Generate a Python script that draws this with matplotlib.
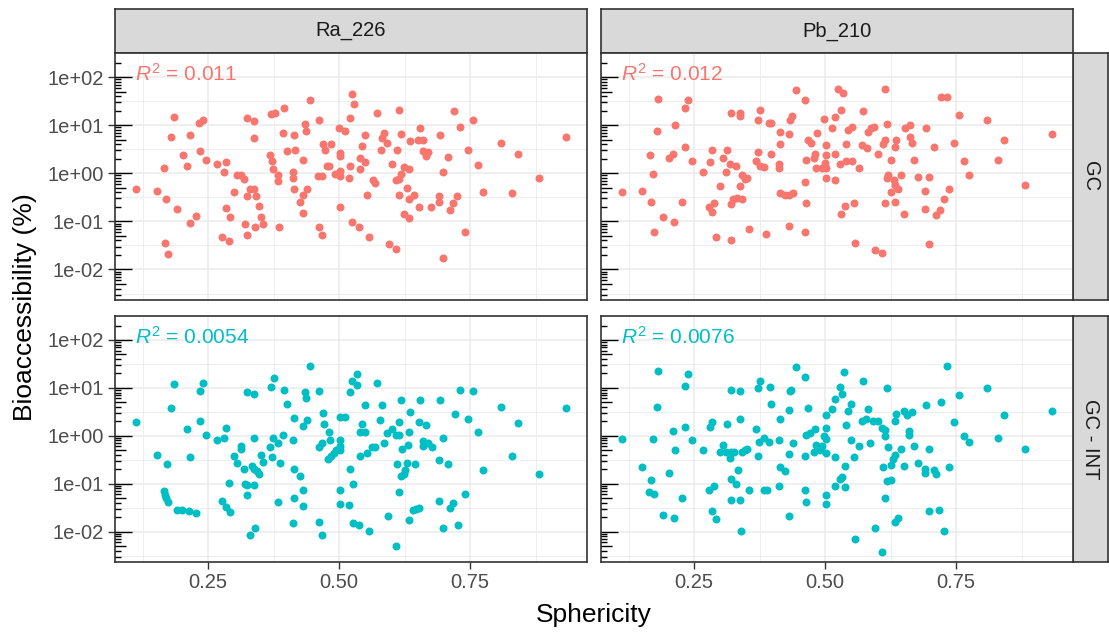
import numpy as np
import matplotlib
matplotlib.use("Agg")
import matplotlib.pyplot as plt

plt.rcParams["font.family"] = ["Liberation Sans", "DejaVu Sans"]
plt.rcParams["mathtext.fontset"] = "custom"
plt.rcParams["mathtext.rm"] = "Liberation Sans"
plt.rcParams["mathtext.it"] = "Liberation Sans:italic"

isotopes = ["Ra_226", "Pb_210"]
methods = ["GC", "GC - INT"]
method_colors = {"GC": "#F8766D", "GC - INT": "#00BFC4"}
r2_values = {("Ra_226", "GC"): "0.011", ("Pb_210", "GC"): "0.012",
             ("Ra_226", "GC - INT"): "0.0054", ("Pb_210", "GC - INT"): "0.0076"}

x_ticks = [0.25, 0.50, 0.75]
x_tick_labels = ["0.25", "0.50", "0.75"]
y_ticks = [1e-2, 1e-1, 1e0, 1e1, 1e2]
y_tick_labels = ["1e-02", "1e-01", "1e+00", "1e+01", "1e+02"]

# ---- Ra_226 / GC ----
ra_gc_x = [0.113, 0.152, 0.165, 0.170, 0.168, 0.173, 0.179, 0.185, 0.190, 0.201,
           0.209, 0.215, 0.215, 0.226, 0.234, 0.233, 0.240, 0.245, 0.267, 0.284,
           0.280, 0.300, 0.283, 0.291, 0.277, 0.289, 0.305, 0.312, 0.319, 0.324,
           0.338, 0.338, 0.329, 0.338, 0.324, 0.341, 0.346, 0.351, 0.354, 0.340,
           0.321, 0.324, 0.368, 0.371, 0.373, 0.370, 0.377, 0.395, 0.384, 0.384,
           0.386, 0.392, 0.400, 0.414, 0.415, 0.411, 0.412, 0.414, 0.425, 0.431,
           0.431, 0.439, 0.431, 0.434, 0.436, 0.445, 0.461, 0.461, 0.467, 0.469,
           0.472, 0.485, 0.459, 0.467, 0.476, 0.481, 0.492, 0.501, 0.501, 0.499,
           0.512, 0.521, 0.525, 0.529, 0.501, 0.501, 0.519, 0.521, 0.501, 0.525,
           0.537, 0.540, 0.543, 0.550, 0.540, 0.550, 0.553, 0.557, 0.564, 0.569,
           0.573, 0.579, 0.581, 0.586, 0.591, 0.595, 0.600, 0.609, 0.609, 0.614,
           0.618, 0.611, 0.614, 0.617, 0.614, 0.624, 0.633, 0.630, 0.633, 0.642,
           0.624, 0.633, 0.636, 0.652, 0.654, 0.651, 0.660, 0.660, 0.666, 0.669,
           0.676, 0.690, 0.690, 0.693, 0.698, 0.707, 0.698, 0.712, 0.717, 0.725,
           0.720, 0.731, 0.740, 0.745, 0.756, 0.764, 0.775, 0.808, 0.830, 0.841,
           0.881, 0.932]
ra_gc_y = [0.47, 0.435, 1.28, 0.294, 0.0356, 0.021, 5.8, 14.8, 0.184, 2.4,
           1.39, 6.15, 0.091, 0.128, 2.9, 11.3, 12.6, 1.93, 1.57, 1.70,
           1.06, 0.41, 0.193, 0.121, 0.048, 0.0385, 0.925, 0.91, 0.755, 14.1,
           12.1, 5.35, 0.47, 0.47, 0.334, 0.334, 0.209, 0.121, 0.087, 0.0755,
           0.087, 0.051, 2.4, 1.79, 1.21, 16.7, 18.1, 22.2, 0.925, 0.70,
           0.0755, 7.0, 2.9, 6.15, 3.1, 1.06, 0.79, 0.47, 0.252, 0.356,
           0.146, 0.47, 1.93, 10.6, 7.55, 33.4, 12.9, 0.0755, 0.051, 4.1,
           3.1, 4.1, 0.87, 0.87, 1.39, 1.43, 0.98, 2.64, 2.26, 8.7,
           7.55, 13.9, 44.3, 27.7, 1.12, 0.88, 0.80, 1.39, 0.196, 0.095,
           0.0755, 2.09, 3.6, 6.15, 1.21, 1.70, 0.356, 0.047, 0.72, 0.615,
           18.1, 3.1, 5.35, 7.0, 4.35, 0.034, 1.57, 0.027, 0.74, 0.755,
           0.98, 3.1, 20.9, 6.55, 0.356, 1.37, 1.21, 0.50, 0.294, 0.356,
           0.139, 0.115, 4.7, 0.196, 8.7, 4.95, 4.95, 2.94, 2.26, 2.72,
           0.196, 0.334, 0.252, 6.15, 1.06, 2.22, 0.017, 0.17, 0.237, 0.334,
           19.3, 9.25, 0.0615, 3.1, 13.1, 1.48, 0.41, 4.35, 0.38, 2.56,
           0.80, 5.8]

# ---- Pb_210 / GC ----
pb_gc_x = [0.112, 0.151, 0.166, 0.171, 0.167, 0.174, 0.179, 0.181, 0.190, 0.201,
           0.209, 0.212, 0.214, 0.226, 0.233, 0.239, 0.233, 0.245, 0.266, 0.278,
           0.283, 0.288, 0.280, 0.283, 0.291, 0.299, 0.305, 0.310, 0.312, 0.318,
           0.321, 0.329, 0.338, 0.338, 0.321, 0.321, 0.324, 0.331, 0.341, 0.338,
           0.342, 0.346, 0.350, 0.354, 0.367, 0.371, 0.375, 0.384, 0.371, 0.376,
           0.392, 0.397, 0.397, 0.387, 0.411, 0.411, 0.414, 0.414, 0.414, 0.423,
           0.431, 0.439, 0.431, 0.433, 0.436, 0.431, 0.444, 0.461, 0.461, 0.463,
           0.461, 0.463, 0.468, 0.472, 0.478, 0.480, 0.483, 0.485, 0.498, 0.502,
           0.502, 0.500, 0.502, 0.494, 0.501, 0.513, 0.518, 0.518, 0.519, 0.524,
           0.534, 0.614, 0.721, 0.733, 0.531, 0.573, 0.543, 0.552, 0.617, 0.581,
           0.587, 0.593, 0.652, 0.661, 0.693, 0.756, 0.808, 0.932, 0.540, 0.570,
           0.579, 0.614, 0.610, 0.636, 0.633, 0.661, 0.666, 0.707, 0.746, 0.841,
           0.529, 0.540, 0.552, 0.564, 0.600, 0.625, 0.669, 0.765, 0.830, 0.620,
           0.617, 0.631, 0.634, 0.639, 0.644, 0.677, 0.699, 0.625, 0.691, 0.737,
           0.775, 0.882, 0.538, 0.554, 0.531, 0.614, 0.633, 0.650, 0.691, 0.719,
           0.712, 0.726, 0.557, 0.595, 0.609, 0.699]
pb_gc_y = [0.40, 0.435, 2.37, 0.98, 0.252, 0.0615, 7.55, 35.6, 0.121, 2.06,
           2.56, 0.098, 9.85, 0.252, 22.2, 33.4, 3.56, 1.82, 1.06, 0.196,
           0.157, 0.237, 1.70, 3.1, 0.047, 0.535, 2.09, 1.06, 3.1, 1.57,
           18.1, 1.39, 17.9, 15.7, 0.041, 0.226, 0.294, 0.31, 0.294, 0.535,
           0.91, 0.755, 0.80, 0.0698, 1.82, 2.72, 1.39, 1.32, 13.1, 20.9,
           11.3, 11.3, 2.56, 0.0535, 1.57, 1.28, 7.1, 4.1, 0.38, 0.356,
           0.356, 0.38, 6.55, 12.9, 15.7, 0.080, 53.5, 33.4, 0.655, 0.237,
           0.0615, 1.93, 4.95, 4.35, 2.06, 2.56, 1.28, 7.0, 13.7, 3.85,
           2.37, 1.65, 1.28, 1.28, 0.80, 8.55, 14.8, 2.52, 0.71, 57.8,
           46.4, 57.8, 37.8, 37.8, 20.9, 19.3, 7.9, 9.25, 10.5, 7.3,
           8.55, 9.25, 8.55, 9.85, 8.55, 16.0, 13.1, 6.55, 4.1, 3.85,
           3.3, 4.95, 4.1, 4.95, 3.5, 5.8, 4.35, 3.56, 4.35, 4.95,
           1.57, 1.79, 1.79, 1.28, 2.52, 1.93, 1.93, 1.82, 1.93, 0.91,
           0.80, 0.71, 0.57, 0.47, 0.91, 0.855, 0.855, 0.41, 0.435, 0.47,
           0.91, 0.57, 0.209, 0.237, 0.139, 0.237, 0.252, 0.139, 0.18, 0.17,
           0.135, 0.29, 0.0356, 0.0252, 0.0222, 0.0334]

# ---- Ra_226 / GC - INT ----
ra_int_x = [0.113, 0.152, 0.171, 0.165, 0.167, 0.170, 0.173, 0.179, 0.185, 0.190,
            0.200, 0.214, 0.226, 0.209, 0.215, 0.234, 0.234, 0.240, 0.245, 0.267,
            0.281, 0.283, 0.289, 0.277, 0.283, 0.292, 0.300, 0.305, 0.313, 0.313,
            0.319, 0.324, 0.338, 0.338, 0.333, 0.338, 0.343, 0.347, 0.320, 0.324,
            0.338, 0.324, 0.330, 0.340, 0.350, 0.355, 0.367, 0.371, 0.374, 0.370,
            0.376, 0.384, 0.387, 0.384, 0.393, 0.395, 0.400, 0.411, 0.414, 0.414,
            0.414, 0.412, 0.425, 0.431, 0.431, 0.431, 0.439, 0.434, 0.436, 0.445,
            0.462, 0.470, 0.471, 0.480, 0.483, 0.462, 0.467, 0.478, 0.485, 0.491,
            0.494, 0.501, 0.501, 0.501, 0.502, 0.512, 0.461, 0.467, 0.501, 0.501,
            0.518, 0.520, 0.520, 0.525, 0.527, 0.527,
            0.534, 0.534, 0.572, 0.550, 0.581, 0.617, 0.654, 0.692, 0.731, 0.756,
            0.808, 0.932, 0.636, 0.721, 0.745, 0.841, 0.543, 0.540, 0.550, 0.578,
            0.614, 0.652, 0.666, 0.591, 0.600, 0.608, 0.615, 0.633, 0.764, 0.698,
            0.586, 0.619, 0.632, 0.660, 0.660, 0.669, 0.677, 0.563, 0.569, 0.553,
            0.540, 0.611, 0.630, 0.644, 0.625, 0.623, 0.617, 0.690, 0.707, 0.775,
            0.830, 0.881, 0.614, 0.740, 0.690, 0.717, 0.712, 0.640, 0.647, 0.653,
            0.594, 0.633, 0.537, 0.557, 0.698, 0.726, 0.609]
ra_int_y = [1.93, 0.40, 0.252, 0.0708, 0.0588, 0.050, 0.0422, 3.8, 12.1, 0.0286,
            0.0286, 0.0272, 0.0248, 1.39, 0.356, 2.06, 8.55, 12.9, 1.05, 0.80,
            0.91, 1.46, 0.105, 0.0443, 0.0329, 0.0252, 0.38, 0.272, 0.625, 0.526,
            0.206, 8.05, 7.4, 0.91, 0.237, 0.206, 0.18, 0.163, 0.10, 0.094,
            0.0925, 0.057, 0.0086, 0.0119, 0.40, 0.29, 0.57, 0.356, 0.91, 10.5,
            16.0, 0.70, 0.272, 0.041, 1.05, 9.1, 4.7, 0.80, 2.37, 0.206,
            0.050, 0.0148, 0.146, 0.0743, 0.0334, 1.57, 2.09, 8.05, 6.05, 29.0,
            8.55, 2.94, 1.73, 1.21, 0.80, 0.57, 0.70, 0.329, 0.372, 0.435,
            0.51, 0.80, 0.615, 0.51, 2.52, 2.52, 0.0157, 0.0086, 0.0743, 0.0378,
            0.0356, 0.206, 8.05, 14.1, 0.097, 0.0148,
            19.3, 11.7, 12.9, 4.35, 4.35, 5.7, 5.7, 5.7, 9.1, 8.55,
            4.0, 3.8, 3.1, 2.9, 2.19, 1.82, 1.79, 1.21, 1.21, 2.09,
            1.93, 1.93, 1.70, 1.12, 1.39, 1.06, 1.06, 1.21, 1.21, 0.91,
            0.70, 0.526, 0.646, 0.78, 0.605, 0.70, 0.57, 0.578, 0.578, 0.435,
            0.372, 0.252, 0.272, 0.252, 0.19, 0.163, 0.146, 0.314, 0.252, 0.193,
            0.38, 0.157, 0.0655, 0.0605, 0.043, 0.040, 0.031, 0.0286, 0.030, 0.0314,
            0.0209, 0.0176, 0.0139, 0.0105, 0.0119, 0.0137, 0.0049]

# ---- Pb_210 / GC - INT ----
pb_int_x = [0.113, 0.151, 0.167, 0.164, 0.173, 0.171, 0.179, 0.181, 0.190, 0.201,
            0.209, 0.214, 0.212, 0.226, 0.233, 0.239, 0.233, 0.245, 0.266, 0.278,
            0.288, 0.280, 0.283, 0.283, 0.291, 0.299, 0.305, 0.311, 0.313, 0.318,
            0.321, 0.325, 0.321, 0.338, 0.338, 0.333, 0.321, 0.330, 0.321, 0.338,
            0.340, 0.342, 0.346, 0.350, 0.354, 0.367, 0.371, 0.376, 0.373, 0.371,
            0.384, 0.392, 0.384, 0.388, 0.395, 0.397, 0.411, 0.414, 0.414, 0.424,
            0.411, 0.430, 0.430, 0.433, 0.435, 0.431, 0.439, 0.444, 0.461, 0.468,
            0.461, 0.461, 0.463, 0.463, 0.471, 0.480, 0.478, 0.482, 0.486, 0.490,
            0.493, 0.502, 0.502, 0.498, 0.502, 0.502, 0.502, 0.502, 0.513, 0.518,
            0.518, 0.518,
            0.535, 0.529, 0.532, 0.543, 0.550, 0.573, 0.617, 0.581, 0.570, 0.578,
            0.591, 0.600, 0.540, 0.608, 0.614, 0.614, 0.636, 0.633, 0.650, 0.656,
            0.666, 0.660, 0.660, 0.693, 0.721, 0.732, 0.756, 0.808, 0.932, 0.841,
            0.745, 0.765, 0.775, 0.830, 0.882, 0.550, 0.564, 0.586, 0.554, 0.538,
            0.532, 0.528, 0.538, 0.620, 0.644, 0.669, 0.699, 0.633, 0.630, 0.626,
            0.610, 0.650, 0.677, 0.691, 0.691, 0.707, 0.712, 0.737, 0.617, 0.625,
            0.614, 0.699, 0.718, 0.633, 0.639, 0.595, 0.726, 0.557, 0.609]
pb_int_y = [0.855, 0.222, 0.119, 0.0655, 0.0605, 0.855, 4.0, 22.2, 0.0222, 0.168,
            1.28, 0.50, 0.019, 0.050, 11.2, 19.3, 1.55, 0.80, 0.50, 0.0743,
            0.091, 1.55, 1.96, 0.027, 0.0179, 0.465, 0.655, 0.45, 1.79, 0.35,
            0.45, 0.465, 9.1, 8.55, 2.19, 0.193, 0.128, 0.097, 0.0464, 0.0464,
            0.0105, 0.45, 0.50, 0.535, 0.0743, 1.39, 9.7, 13.7, 0.74, 0.38,
            0.91, 0.74, 0.0743, 0.0743, 10.5, 4.7, 0.80, 2.19, 0.222, 0.18,
            0.091, 0.0209, 3.5, 8.55, 9.1, 0.41, 0.70, 27.2, 16.7, 3.8,
            0.38, 0.0743, 0.041, 1.05, 1.12, 1.37, 0.465, 0.655, 0.57, 0.50,
            0.615, 2.72, 1.48, 0.98, 0.855, 0.435, 0.057, 0.0378, 3.56, 5.8,
            0.356, 0.091,
            21.9, 10.6, 7.4, 3.3, 4.65, 13.7, 9.7, 3.56, 2.06, 2.22,
            2.06, 2.06, 1.70, 1.46, 1.31, 0.97, 2.9, 2.06, 3.34, 2.69,
            3.1, 1.24, 1.05, 4.35, 5.0, 29.0, 7.0, 9.85, 3.34, 2.69,
            1.93, 0.97, 0.74, 0.91, 0.535, 0.80, 0.605, 0.70, 0.356, 0.237,
            0.139, 0.128, 0.0855, 0.57, 0.535, 0.605, 0.535, 0.40, 0.329, 0.24,
            0.222, 0.237, 0.272, 0.206, 0.168, 0.193, 0.157, 0.222, 0.112, 0.119,
            0.0494, 0.027, 0.0286, 0.0157, 0.019, 0.0119, 0.0105, 0.007, 0.0038]

panel_data = {
    ("Ra_226", "GC"): (ra_gc_x, ra_gc_y),
    ("Pb_210", "GC"): (pb_gc_x, pb_gc_y),
    ("Ra_226", "GC - INT"): (ra_int_x, ra_int_y),
    ("Pb_210", "GC - INT"): (pb_int_x, pb_int_y),
}

W, H = 1109, 635
X_LIM = (0.072, 0.973)
Y_LIM = (10 ** -2.635, 10 ** 2.394)
BORDER = "#333333"


def px_box(left, top, right, bottom):
    return [left / W, 1 - bottom / H, (right - left) / W, (bottom - top) / H]


def style_panel(ax, show_x, show_y):
    ax.set_yscale("log")
    ax.set_xlim(*X_LIM)
    ax.set_ylim(*Y_LIM)
    ax.set_xticks(x_ticks)
    ax.set_xticks([0.125, 0.375, 0.625, 0.875], minor=True)
    ax.set_yticks(y_ticks)
    ax.set_yticks([10 ** (k + 0.5) for k in range(-3, 3)], minor=True)
    ax.set_xticklabels(x_tick_labels if show_x else [])
    ax.set_yticklabels(y_tick_labels if show_y else [])
    ax.grid(which="major", color="#EBEBEB", lw=1.1)
    ax.grid(which="minor", color="#EBEBEB", lw=0.6)
    ax.set_axisbelow(True)
    ax.tick_params(which="major", direction="out", length=5, width=1.0,
                   color=BORDER, labelcolor="#4D4D4D", labelsize=14.5, pad=3)
    ax.tick_params(axis="x", which="major", length=5 if show_x else 0)
    ax.tick_params(axis="y", which="major", length=5 if show_y else 0)
    ax.tick_params(which="minor", length=0)
    for s in ax.spines.values():
        s.set_color(BORDER)
        s.set_linewidth(1.2)

    # log ticks inside the left edge
    tr = ax.get_yaxis_transform()
    pw = (587 - 115)
    for k in range(-3, 3):
        for m in range(1, 10):
            v = m * 10.0 ** k
            if not (Y_LIM[0] <= v <= Y_LIM[1]):
                continue
            L = 17 if m == 1 else (11 if m == 5 else 5.5)
            ax.plot([0, L / pw], [v, v], transform=tr, color="black",
                    lw=1.0, solid_capstyle="butt", clip_on=False, zorder=3)


def add_strip(fig, box, text, rotation=0):
    sax = fig.add_axes(box)
    sax.set_facecolor("#D9D9D9")
    sax.set_xticks([])
    sax.set_yticks([])
    for s in sax.spines.values():
        s.set_color(BORDER)
        s.set_linewidth(1.2)
    sax.text(0.5, 0.5, text, ha="center", va="center", rotation=rotation,
             fontsize=14.5, color="#1A1A1A", transform=sax.transAxes)


def main():
    fig = plt.figure(figsize=(W / 100, H / 100), dpi=100)
    fig.patch.set_facecolor("white")

    cols = [(115, 587), (601, 1073)]
    rows = [(53, 300), (316, 562)]

    for ci, iso in enumerate(isotopes):
        add_strip(fig, px_box(cols[ci][0], 9, cols[ci][1], 53), iso)
    for ri, meth in enumerate(methods):
        add_strip(fig, px_box(1073, rows[ri][0], 1108, rows[ri][1]), meth,
                  rotation=-90)

    for ri, meth in enumerate(methods):
        for ci, iso in enumerate(isotopes):
            ax = fig.add_axes(px_box(cols[ci][0], rows[ri][0],
                                     cols[ci][1], rows[ri][1]))
            style_panel(ax, show_x=(ri == 1), show_y=(ci == 0))
            xs, ys = panel_data[(iso, meth)]
            ax.scatter(xs, ys, s=33, color=method_colors[meth],
                       linewidths=0, zorder=2)
            ax.text(0.042, 0.915, r"$R^2$ = " + r2_values[(iso, meth)],
                    transform=ax.transAxes, ha="left", va="center",
                    fontsize=15, color=method_colors[meth])

    fig.text(594 / W, 1 - 615 / H, "Sphericity", ha="center", va="center",
             fontsize=19, color="black")
    fig.text(25 / W, 1 - 307 / H, "Bioaccessibility (%)", ha="center",
             va="center", rotation=90, fontsize=19, color="black")

    fig.savefig("out.png", dpi=100)


if __name__ == "__main__":
    main()
